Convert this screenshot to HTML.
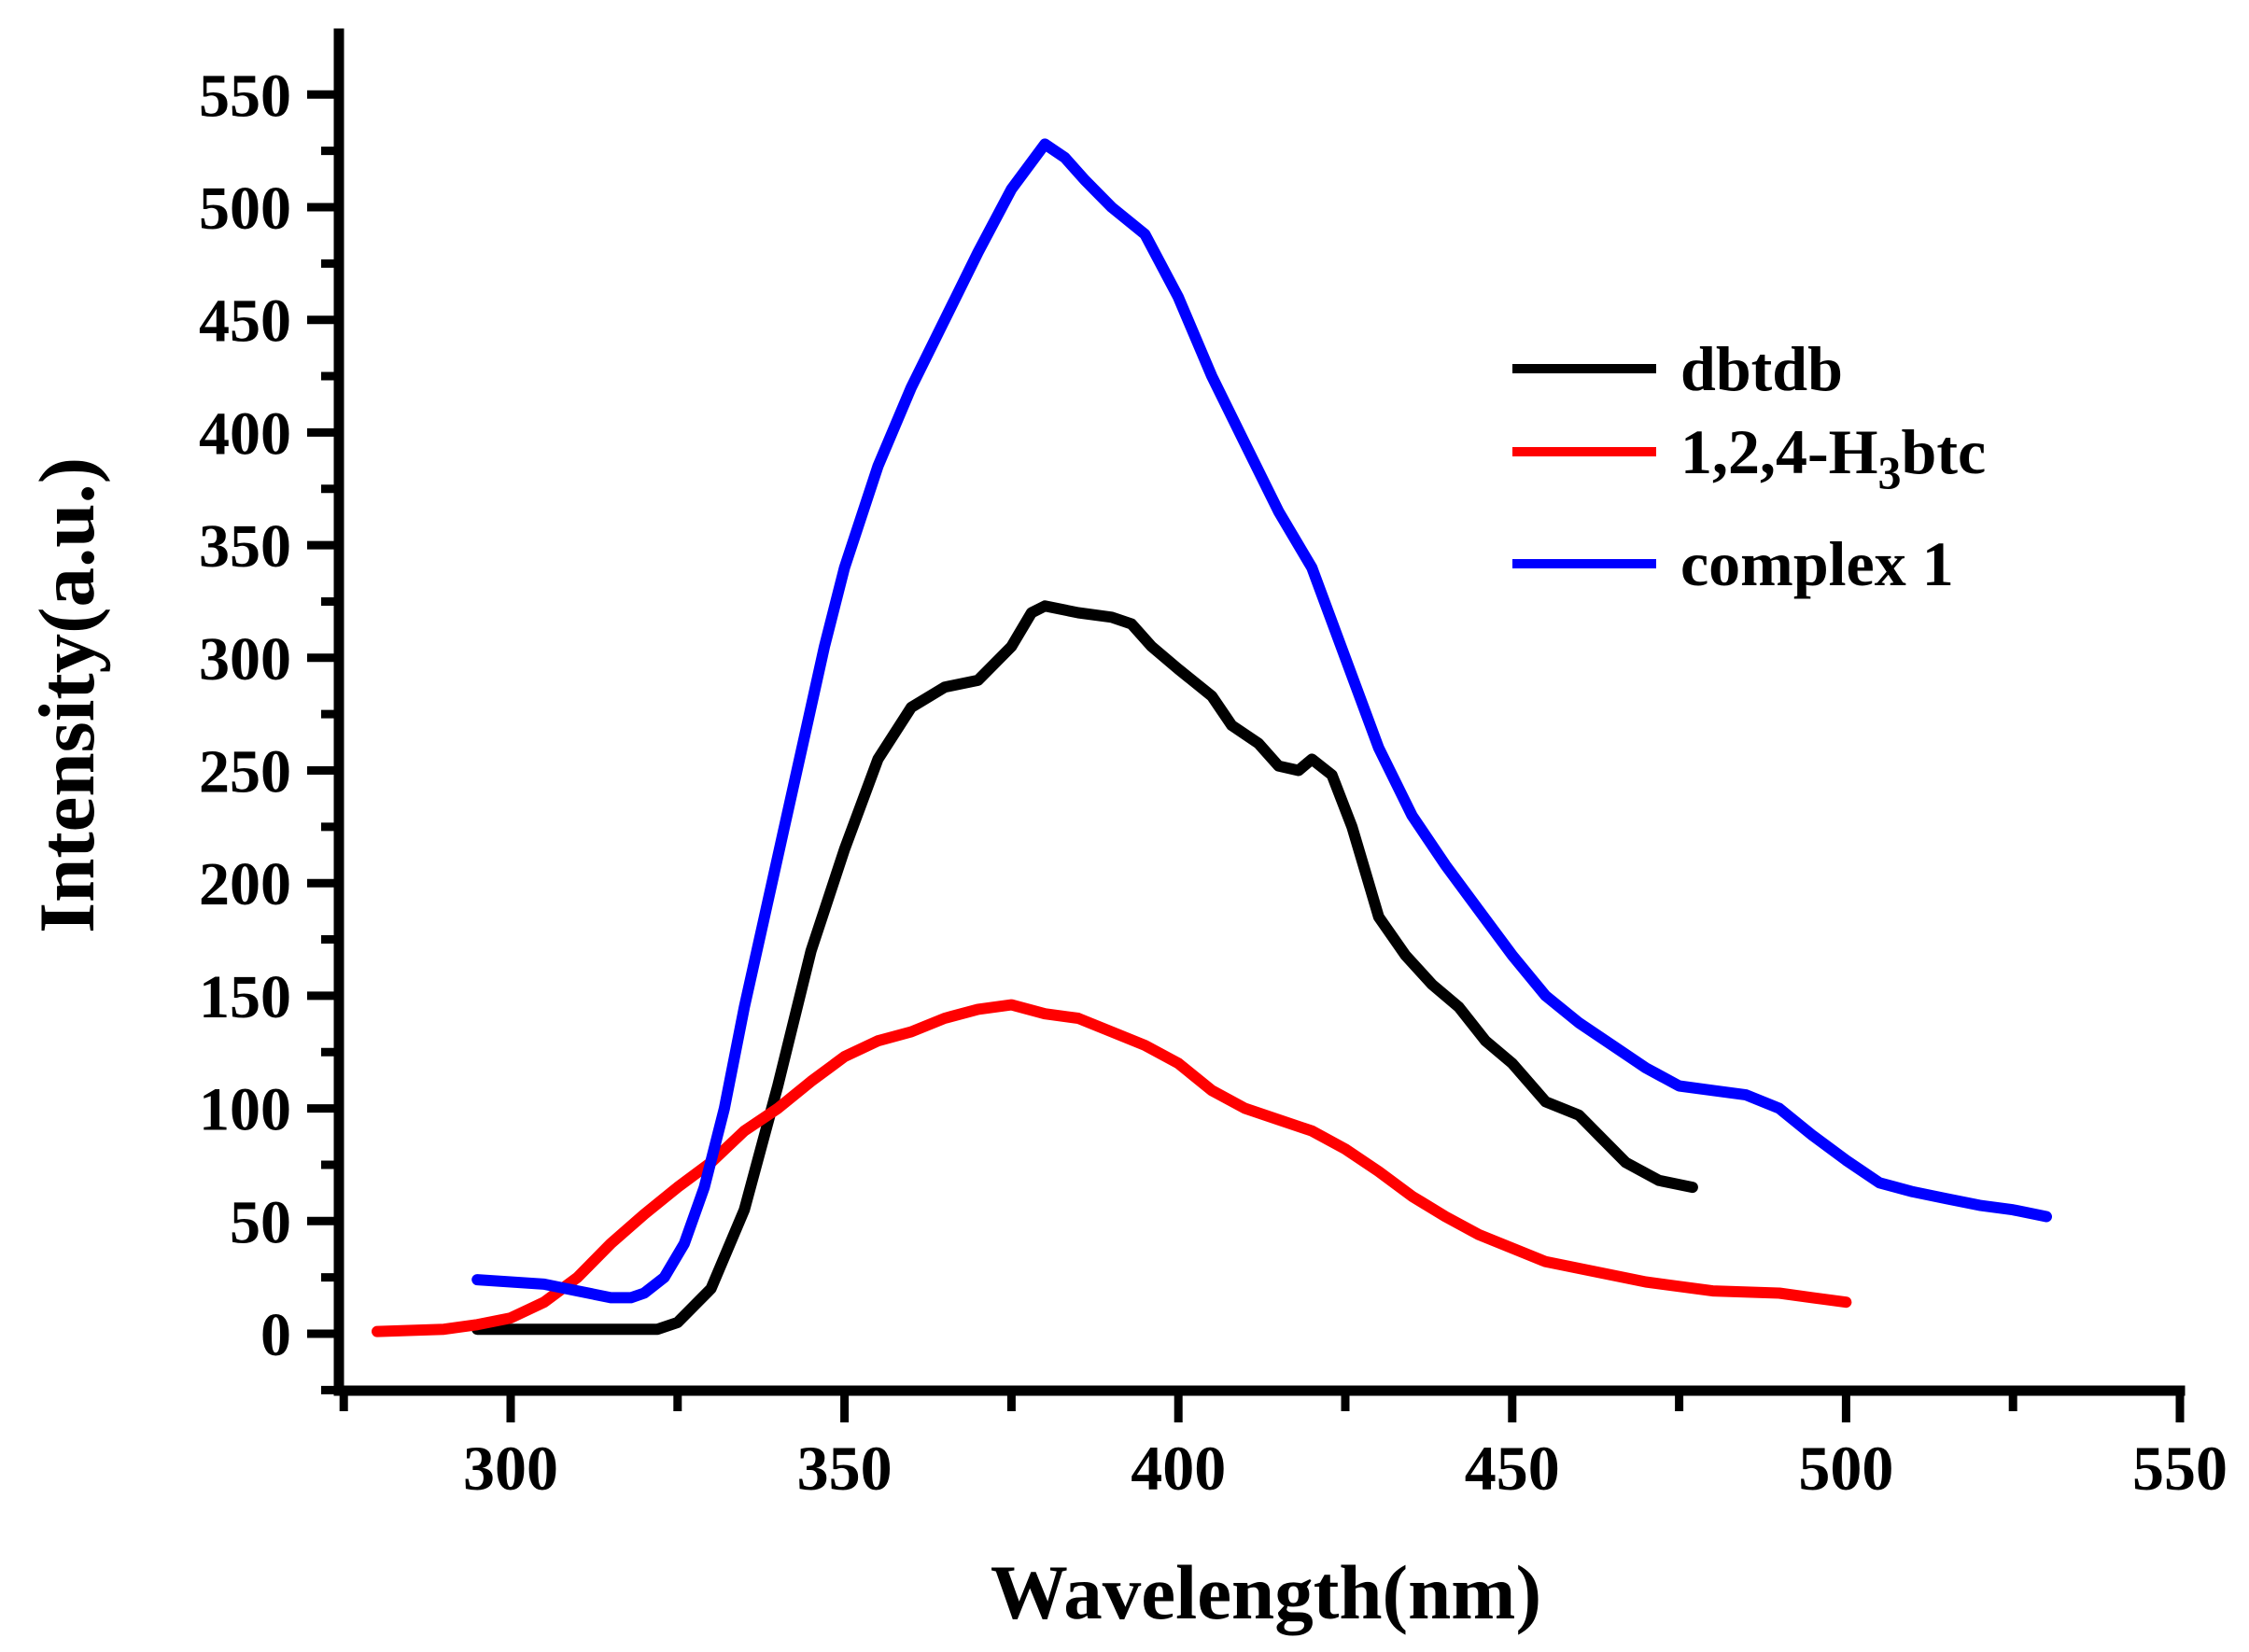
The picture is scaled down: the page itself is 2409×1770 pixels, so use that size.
<!DOCTYPE html>
<html><head><meta charset="utf-8"><style>
html,body{margin:0;padding:0;background:#fff;}
svg{display:block;}
text{font-family:"Liberation Serif",serif;font-weight:bold;fill:#000;}
</style></head><body>
<svg id="s" width="2409" height="1770" viewBox="0 0 2409 1770" xmlns="http://www.w3.org/2000/svg">
<g id="axes" stroke="#000" stroke-width="11" fill="none" stroke-linecap="square">
<line x1="363" y1="36" x2="363" y2="1490"/>
<line x1="363" y1="1490" x2="2335" y2="1490"/>
</g>
<g id="ticks" stroke="#000" stroke-width="9"></g>
<g id="labels" font-size="66" text-anchor="end"></g>
<g id="xlabels" font-size="68" text-anchor="middle"></g>
<text x="1356" y="1734" font-size="83" text-anchor="middle">Wavelength(nm)</text>
<text transform="translate(100,745) rotate(-90)" font-size="85" text-anchor="middle">Intensity(a.u.)</text>
<g id="curves" fill="none" stroke-width="12" stroke-linejoin="round" stroke-linecap="round"></g>
<g stroke-width="10">
<line x1="1620" y1="395" x2="1774" y2="395" stroke="#000"/>
<line x1="1620" y1="484" x2="1774" y2="484" stroke="#ff0000"/>
<line x1="1620" y1="604" x2="1774" y2="604" stroke="#0000ff"/>
</g>
<text x="1800" y="418" font-size="68">dbtdb</text>
<text x="1800" y="507" font-size="68">1,2,4-H<tspan font-size="50" dy="16">3</tspan><tspan dy="-16">btc</tspan></text>
<text x="1800" y="627" font-size="68">complex 1</text>
</svg>
<script>
var NS="http://www.w3.org/2000/svg";
function X(l){return 547+(l-300)*7.152;}
function Y(i){return 1429-i*2.414;}
var t=document.getElementById("ticks"),L=document.getElementById("labels"),XL=document.getElementById("xlabels");
function ln(g,a,b,c,d){var e=document.createElementNS(NS,"line");e.setAttribute("x1",a);e.setAttribute("y1",b);e.setAttribute("x2",c);e.setAttribute("y2",d);g.appendChild(e);}
function tx(g,x,y,s){var e=document.createElementNS(NS,"text");e.setAttribute("x",x);e.setAttribute("y",y);e.textContent=s;g.appendChild(e);}
for(var v=0;v<=550;v+=25){var y=Y(v);if(v%50==0){ln(t,329,y,363,y);tx(L,312,y+23,v);}else ln(t,344,y,363,y);}
ln(t,344,Y(-25),363,Y(-25));
for(var l=275;l<=550;l+=25){var x=X(l);if(l%50==0){ln(t,x,1490,x,1524);tx(XL,x,1596,l);}else ln(t,x,1490,x,1512);}
var data={
"#000":[[295,2],[322,2],[325,5],[330,20],[335,55],[340,110],[345,170],[350,215],[355,255],[360,278],[365,287],[370,290],[375,305],[378,320],[380,323],[385,320],[390,318],[393,315],[396,305],[400,295],[405,283],[408,270],[412,262],[415,252],[418,250],[420,255],[423,248],[426,225],[428,205],[430,185],[434,168],[438,155],[442,145],[446,130],[450,120],[455,103],[460,97],[463,88],[467,76],[472,68],[477,65]],
"#ff0000":[[280,1],[290,2],[295,4],[300,7],[305,14],[310,25],[315,40],[320,53],[325,65],[330,76],[335,90],[340,100],[345,112],[350,123],[355,130],[360,134],[365,140],[370,144],[375,146],[380,142],[385,140],[390,134],[395,128],[400,120],[405,108],[410,100],[415,95],[420,90],[425,82],[430,72],[435,61],[440,52],[445,44],[450,38],[455,32],[460,29],[465,26],[470,23],[475,21],[480,19],[490,18],[495,16],[500,14]],
"#0000ff":[[295,24],[300,23],[305,22],[310,19],[315,16],[318,16],[320,18],[323,25],[326,40],[329,65],[332,100],[335,145],[338,185],[341,225],[344,265],[347,305],[350,340],[355,385],[360,420],[365,450],[370,480],[375,508],[380,528],[383,522],[386,512],[390,500],[395,488],[400,460],[405,425],[410,395],[415,365],[420,340],[425,300],[430,260],[435,230],[440,208],[445,188],[450,168],[455,150],[460,138],[465,128],[470,118],[475,110],[480,108],[485,106],[490,100],[495,88],[500,77],[505,67],[510,63],[515,60],[520,57],[525,55],[530,52]]};
var C=document.getElementById("curves");
for(var c in data){var p=document.createElementNS(NS,"polyline");p.setAttribute("stroke",c);p.setAttribute("points",data[c].map(function(q){return X(q[0]).toFixed(1)+","+Y(q[1]).toFixed(1);}).join(" "));C.appendChild(p);}
</script>
</body></html>
